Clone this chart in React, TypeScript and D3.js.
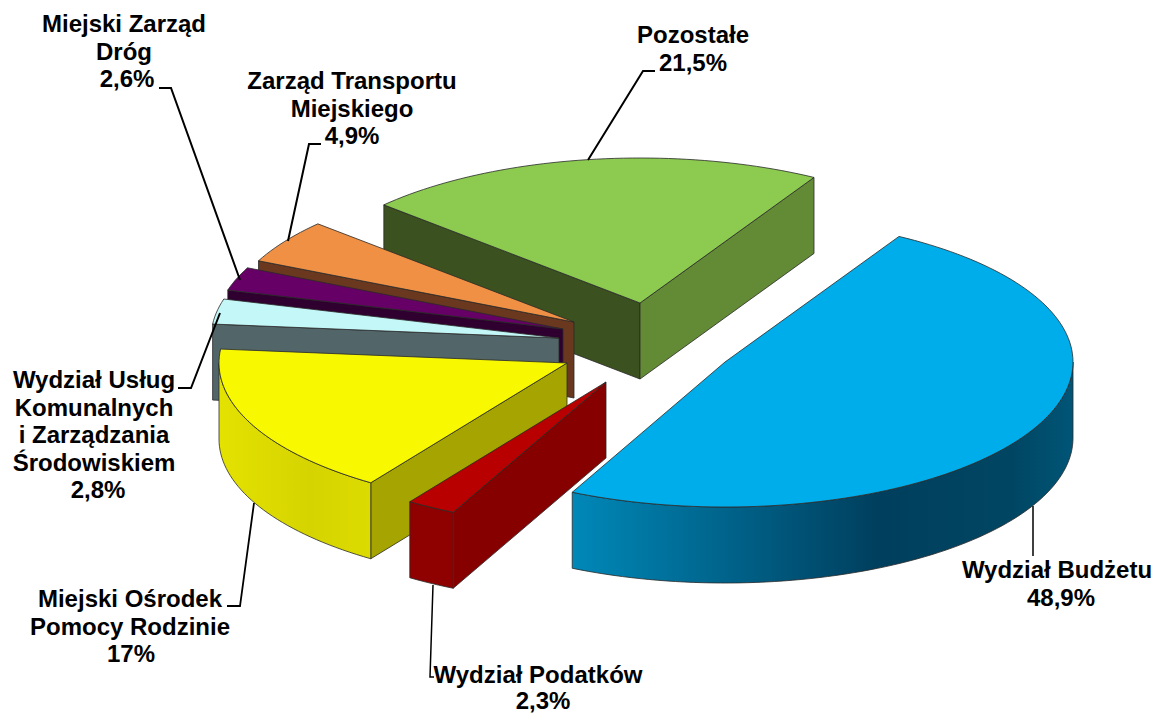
import React from "react";
import * as d3 from "d3";

// ---- data ----
const categories = [
  ["Wydział Budżetu"],
  ["Wydział Podatków"],
  ["Miejski Ośrodek", "Pomocy Rodzinie"],
  ["Wydział Usług", "Komunalnych", "i Zarządzania", "Środowiskiem"],
  ["Miejski Zarząd", "Dróg"],
  ["Zarząd Transportu", "Miejskiego"],
  ["Pozostałe"],
];
const values = [48.9, 2.3, 17, 2.8, 2.6, 4.9, 21.5];

// ---- styles ----
const topColors = ["#00ADEB", "#B80000", "#F8F800", "#C4F7F7", "#660066", "#F09045", "#8CCA50"];
const startFaceColors = ["none", "#870000", "#A6A400", "#526568", "#2F002F", "#69381E", "#3B5220"];
const endFaceColors = ["none", "none", "none", "none", "none", "none", "#638B35"];
const wallStops: [number, string][][] = [
  [[0, "#0088B8"], [0.61, "#003F5E"], [0.88, "#004663"], [1, "#005577"]],
  [[0, "#8F0000"], [1, "#8F0000"]],
  [[0, "#E3E200"], [0.6, "#D6D400"], [1, "#DCDB00"]],
  [[0, "#526568"], [1, "#526568"]],
  [[0, "#2F002F"], [1, "#2F002F"]],
  [[0, "#69381E"], [1, "#69381E"]],
  [[0, "#638B35"], [1, "#638B35"]],
];

// ---- layout ----
const W = 1156, H = 714;
const RX = 348, RY = 145, DEPTH = 76;
const center = [652, 344];
const sliceShift = [[73, 18], [-46, 38], [-85, 19], [-93, -6], [-89, -15], [-78, -22], [-12, -41]];
const paintOrder = [6, 5, 4, 3, 2, 1, 0];
const rad = (d: number) => (d * Math.PI) / 180;
const labelPos = [
  { x: 1057, y: 578 }, { x: 538, y: 683 }, { x: 130, y: 607 }, { x: 94, y: 388 },
  { x: 124, y: 32 }, { x: 352, y: 89 }, { x: 693, y: 43 },
];
const pctShift = [[4, 0], [5, -1.6], [1, 0], [4, 0], [3, 0], [0, 0], [0, 0]];
const leaders = [
  [[1033, 506], [1033, 556]],
  [[433, 585], [430, 677], [434, 677]],
  [[227, 606], [240, 606], [254, 503]],
  [[178, 388], [191, 388], [220, 313]],
  [[159, 88], [171, 88], [240, 280]],
  [[321, 144], [309, 144], [288, 241]],
  [[655, 71], [643, 71], [588, 160]],
];
const leaderWidths = [1.5, 1.5, 1.8, 2, 2, 2, 2];
const FONT = "'Liberation Sans', Arial, sans-serif";
const LINE_H = 27.6;

const pie = d3.pie<number>().sort(null).startAngle(rad(30)).endAngle(rad(390));
const line = d3.line<number[]>().x((d) => d[0]).y((d) => d[1]);
const project = (a: number): number[] => [RX * Math.sin(a), -RY * Math.cos(a)];
const arcPts = (a0: number, a1: number, dy = 0): number[][] => {
  const n = Math.max(2, Math.ceil(Math.abs(a1 - a0) / rad(1.5)));
  return d3.range(n + 1).map((i) => {
    const p = project(a0 + ((a1 - a0) * i) / n);
    return [p[0], p[1] + dy];
  });
};
const closed = (pts: number[][]) => line(pts) + "Z";
const pctLabel = (v: number) => String(v).replace(".", ",") + "%";

export default function App() {
  const arcs = pie(values);
  const stroke = { stroke: "#2a2a2a", strokeWidth: 0.8, strokeLinejoin: "round" as const };
  return (
    <svg width={W} height={H} viewBox={`0 0 ${W} ${H}`}
      style={{ position: "absolute", left: 0, top: 0, background: "#fff" }}>
      <defs>
        {arcs.map((a, i) => {
          const lo = Math.max(a.startAngle, rad(90));
          const hi = Math.min(a.endAngle, rad(270));
          if (hi <= lo) return null;
          // gradient coordinates are those of the slice's own translated group
          const xs = arcPts(lo, hi).map((p) => p[0]);
          return (
            <linearGradient key={i} id={`wall${i}`} gradientUnits="userSpaceOnUse"
              x1={d3.min(xs)} x2={d3.max(xs)} y1={0} y2={0}>
              {wallStops[i].map(([o, c], k) => <stop key={k} offset={o} stopColor={c} />)}
            </linearGradient>
          );
        })}
      </defs>
      {paintOrder.map((i) => {
        const a = arcs[i];
        const [dx, dy] = sliceShift[i];
        const lo = Math.max(a.startAngle, rad(90));
        const hi = Math.min(a.endAngle, rad(270));
        const ps = project(a.startAngle);
        const pe = project(a.endAngle);
        return (
          <g key={i} transform={`translate(${center[0] + dx},${center[1] + dy})`} {...stroke}>
            {Math.sin(a.startAngle) < 0 && (
              <path fill={startFaceColors[i]}
                d={closed([[0, 0], ps, [ps[0], ps[1] + DEPTH], [0, DEPTH]])} />
            )}
            {Math.sin(a.endAngle) > 0 && (
              <path fill={endFaceColors[i]}
                d={closed([[0, 0], pe, [pe[0], pe[1] + DEPTH], [0, DEPTH]])} />
            )}
            {hi > lo && (
              <path fill={`url(#wall${i})`}
                d={closed([...arcPts(lo, hi), ...arcPts(hi, lo, DEPTH)])} />
            )}
            <path fill={topColors[i]}
              d={closed([[0, 0], ...arcPts(a.startAngle, a.endAngle)])} />
          </g>
        );
      })}
      {leaders.map((pts, i) => (
        <path key={i} d={line(pts) ?? ""} fill="none" stroke="#000" strokeWidth={leaderWidths[i]} />
      ))}
      {categories.map((lines, i) => (
        <text key={i} textAnchor="middle" fontFamily={FONT} fontWeight="bold" fontSize={24} fill="#000">
          {lines.map((t, k) => (
            <tspan key={k} x={labelPos[i].x} y={labelPos[i].y + k * LINE_H}>{t}</tspan>
          ))}
          <tspan x={labelPos[i].x + pctShift[i][0]}
            y={labelPos[i].y + lines.length * LINE_H + pctShift[i][1]}>{pctLabel(values[i])}</tspan>
        </text>
      ))}
    </svg>
  );
}
